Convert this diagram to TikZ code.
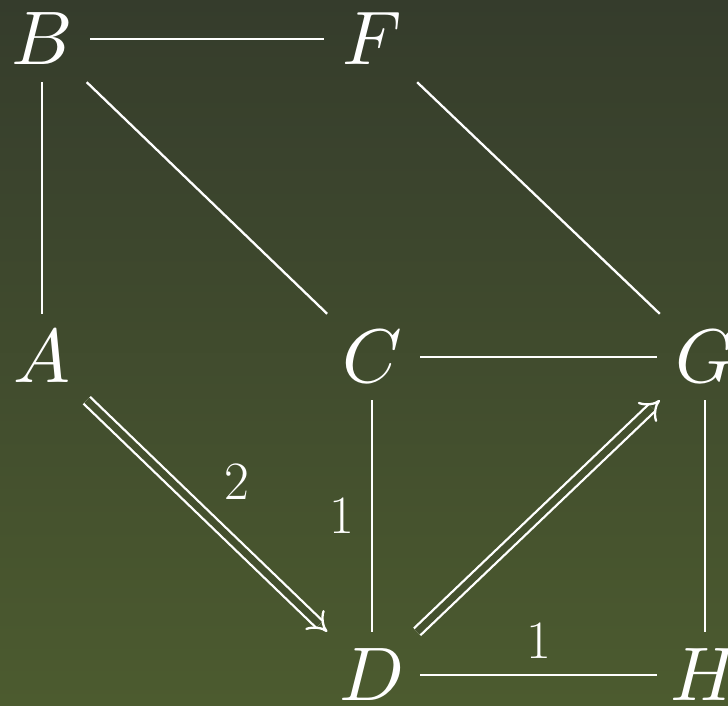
\documentclass[tikz,border=0pt]{standalone}
\DeclareFontFamily{OML}{cmm}{\skewchar\font127 }
\DeclareFontShape{OML}{cmm}{m}{it}{<->cmmi10}{}
\usetikzlibrary{arrows.meta}
\definecolor{bgtop}{RGB}{53,60,44}
\definecolor{bgbot}{RGB}{76,91,47}
\definecolor{bgmid}{RGB}{68,80,46}
\begin{document}
\begin{tikzpicture}[x=1pt,y=-1pt,
  vert/.style={text=white, minimum width=96pt, minimum height=86pt, inner sep=0pt,
    font=\fontsize{76}{80}\selectfont},
  edge/.style={draw=white, line width=2.3pt},
  dbl/.style={draw=white, line width=2.3pt, double=bgmid, double distance=7pt, -{Implies[scale=1.3]}},
  lbl/.style={text=white, inner sep=0pt, font=\fontsize{54}{60}\selectfont}]
\useasboundingbox (0,0) rectangle (728,705);
\fill[top color=bgtop, bottom color=bgbot] (0,0) rectangle (728,705);
\node[vert] (B) at (42,39) {$B$};
\node[vert] (F) at (372,39) {$F$};
\node[vert] (A) at (42,357) {$A$};
\node[vert] (C) at (372,357) {$C$};
\node[vert] (G) at (705,357) {$G$};
\node[vert] (D) at (372,675) {$D$};
\node[vert] (H) at (705,675) {$H$};
\draw[edge] (B) -- (F);
\draw[edge] (B) -- (A);
\draw[edge] (B) -- (C);
\draw[edge] (F) -- (G);
\draw[edge] (C) -- (G);
\draw[edge] (C) -- node[lbl, xshift=-30pt] {1} (D);
\draw[edge] (G) -- (H);
\draw[edge] (D) -- node[lbl, yshift=34pt] {1} (H);
\draw[dbl] (A) -- node[lbl, xshift=30pt, yshift=34pt] {2} (D);
\draw[dbl] (D) -- (G);
\end{tikzpicture}
\end{document}
